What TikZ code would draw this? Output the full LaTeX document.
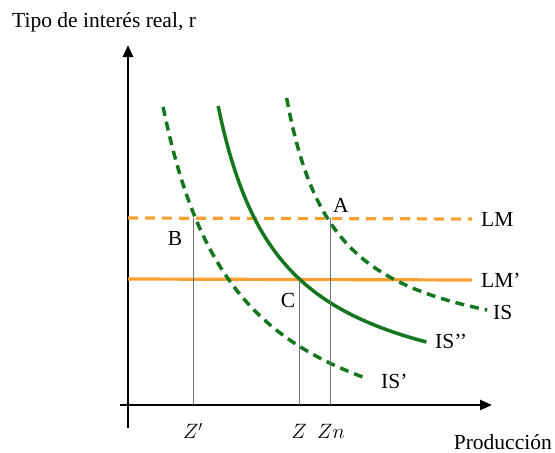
\documentclass[tikz,border=0pt]{standalone}
\usepackage{fontspec}
\setmainfont{Liberation Serif}
\definecolor{isgreen}{RGB}{20, 118, 30}
\definecolor{lmorange}{RGB}{250, 160, 50}
\usetikzlibrary{arrows.meta, positioning}

\begin{document}
\begin{tikzpicture}[x=1pt, y=-1pt, font=\fontsize{21.5}{25}\selectfont,
    axis/.style={line width=2.5pt, -{Triangle[length=12pt, width=10pt]}},
    guide/.style={black!55, line width=1pt},
    iscurve/.style={isgreen, line width=3.5pt, variable=\t, samples=80, smooth},
    isdash/.style={iscurve, dash pattern=on 9pt off 6pt},
    lmline/.style={lmorange, line width=3.2pt},
    lbl/.style={inner sep=0pt, anchor=west}]
  \useasboundingbox (0,0) rectangle (555,453);

  \coordinate (O) at (128,405);
  \coordinate (ytop) at (128,45);
  \coordinate (ybot) at (128,428);
  \coordinate (xleft) at (120,405);
  \coordinate (xend) at (492,405);
  \draw[axis] (ybot) -- (ytop);
  \draw[axis] (xleft) -- (xend);
  \node[lbl] (ylab) at (12,22) {Tipo de interés real, r};
  \node[inner sep=0pt, anchor=east] (xlab) at (552,442) {Producción};

  \coordinate (B) at (193,218);
  \coordinate (A) at (330,218);
  \coordinate (C) at (299,279);

  \node[lbl] (lm) at (481,219) {LM};
  \node[lbl] (lmp) at (481,280) {LM’};
  \draw[lmline, dash pattern=on 10pt off 7pt] (O |- A) -- (lm.west -| 472,0);
  \draw[lmline] (O |- C) -- (lmp.west -| 472,0);

  \draw[iscurve] plot[domain=106:342] ({155+194.2/((413.6-\t)*0.01)}, \t);
  \draw[isdash] plot[domain=98:310] ({238+128/((361.4-\t)*0.01)}, \t);
  \draw[isdash] plot[domain=107:377] ({87+283.8/((480-\t)*0.01)}, \t);

  \node[lbl] (isr) at (493,312) {IS};
  \node[lbl] (ism) at (435,341) {IS’’};
  \node[lbl] (isl) at (381,381) {IS’};

  \node (a) at (341,205) {A};
  \node (b) at (175,238) {B};
  \node (c) at (288,300) {C};

  \node (zp) at (193,431) {$Z'$};
  \node (z) at (299,431) {$Z$};
  \node (zn) at (331,431) {$Zn$};
  \draw[guide] (B) -- (O -| B);
  \draw[guide] (C) -- (O -| C);
  \draw[guide] (A) -- (O -| A);
\end{tikzpicture}
\end{document}
